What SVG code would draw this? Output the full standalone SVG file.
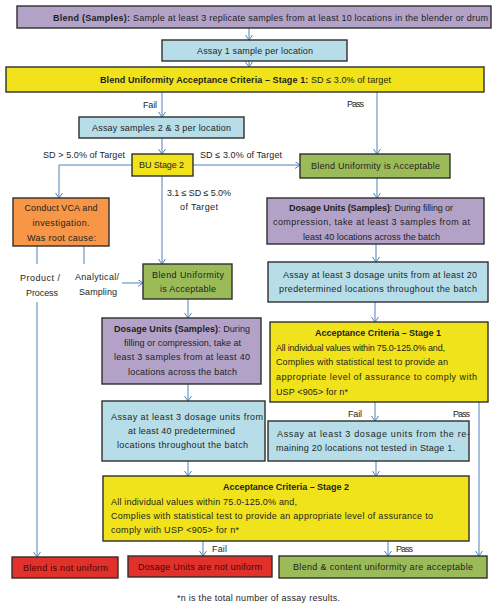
<svg xmlns="http://www.w3.org/2000/svg" width="495" height="608" viewBox="0 0 495 608">
<style>
text{font-family:"Liberation Sans",Arial,sans-serif;font-size:9px;fill:#1e1e1e}
.b{font-weight:bold}
.m{text-anchor:middle}
.box{stroke:#2e2e2e;stroke-width:1.4}
.pu{fill:#b3a2c7}.cy{fill:#b7dee8}.ye{fill:#f0e31b}.gr{fill:#9bbb59}.or{fill:#f79646}.rd{fill:#e2302a}
.rt{fill:#4a0505}
.c{fill:none;stroke:#4f81bd;stroke-width:1}
.a{marker-end:url(#ah)}
</style>
<defs>
<marker id="ah" markerUnits="userSpaceOnUse" markerWidth="8" markerHeight="8" refX="5" refY="3.5" orient="auto">
<path d="M0,0 L5,3.5 L0,7" fill="none" stroke="#4f81bd" stroke-width="1"/>
</marker>
</defs>
<rect width="495" height="608" fill="#ffffff"/>

<g id="connectors">
<path class="c a" d="M249,28 V40"/>
<path class="c a" d="M249,61 V67"/>
<path class="c a" d="M162,92 V117"/>
<path class="c a" d="M377,92 V154"/>
<path class="c a" d="M162,138 V154"/>
<path class="c a" d="M132,165 H59 V198"/>
<path class="c a" d="M193,165 H300"/>
<path class="c a" d="M162,176 V264"/>
<path class="c a" d="M377,178 V198"/>
<path class="c a" d="M376,244 V262"/>
<path class="c a" d="M375,302 V322"/>
<path class="c" d="M37,246 V264"/>
<path class="c a" d="M37,302 V557"/>
<path class="c" d="M84,246 V264"/>
<path class="c a" d="M122,283 H143"/>
<path class="c a" d="M188,299 V318"/>
<path class="c a" d="M188,384 V401"/>
<path class="c a" d="M375,402 V421"/>
<path class="c a" d="M479,402 V556"/>
<path class="c a" d="M188,461 V476"/>
<path class="c a" d="M376,461 V476"/>
<path class="c a" d="M203,541 V556"/>
<path class="c a" d="M388,541 V556"/>
<text x="150" y="108" class="m" textLength="14">Fail</text>
<text x="355.5" y="107" class="m" textLength="17">Pass</text>
<text x="84" y="158" class="m" textLength="82">SD &gt; 5.0% of Target</text>
<text x="241" y="158" class="m" textLength="82">SD ≤ 3.0% of Target</text>
<text x="199" y="196" class="m" textLength="64">3.1 ≤ SD ≤ 5.0%</text>
<text x="199" y="210" class="m" textLength="38">of Target</text>
<text x="40" y="281" class="m" textLength="40">Product /</text>
<text x="42" y="296" class="m" textLength="32">Process</text>
<text x="97" y="280" class="m" textLength="44">Analytical/</text>
<text x="98" y="295" class="m" textLength="38">Sampling</text>
<text x="355" y="417" class="m" textLength="14">Fail</text>
<text x="461.5" y="417" class="m" textLength="17">Pass</text>
<text x="219.5" y="552" class="m" textLength="15">Fail</text>
<text x="404.5" y="552" class="m" textLength="17">Pass</text>
</g>

<g id="blend-samples">
<rect class="box pu" x="17" y="6" width="474" height="22"/>
<text x="53" y="20.5" textLength="435"><tspan class="b">Blend (Samples):</tspan>  Sample at least 3 replicate samples from at least 10 locations in the blender or drum</text>
</g>
<g id="assay-1">
<rect class="box cy" x="162" y="40" width="185" height="21"/>
<text x="197" y="54" textLength="116">Assay 1 sample per location</text>
</g>
<g id="bu-stage1">
<rect class="box ye" x="6" y="67" width="478" height="25"/>
<text x="100" y="83" textLength="291"><tspan class="b">Blend Uniformity Acceptance Criteria – Stage 1:</tspan>  SD ≤ 3.0% of target</text>
</g>
<g id="assay-2-3">
<rect class="box cy" x="79" y="117" width="165" height="21"/>
<text x="92" y="131" textLength="139">Assay samples 2 &amp; 3 per location</text>
</g>
<g id="bu-stage2">
<rect class="box ye" x="132" y="154" width="61" height="22"/>
<text x="139" y="168" textLength="45">BU Stage 2</text>
</g>
<g id="vca">
<rect class="box or" x="13" y="198" width="96" height="48"/>
<text x="61" y="211" class="m" textLength="73">Conduct VCA and</text>
<text x="61" y="226" class="m" textLength="57">investigation.</text>
<text x="61.5" y="241" class="m" textLength="69">Was root cause:</text>
</g>
<g id="bua-right">
<rect class="box gr" x="300" y="154" width="150" height="24"/>
<text x="375.5" y="169" class="m" textLength="129">Blend Uniformity is Acceptable</text>
</g>
<g id="dosage-right">
<rect class="box pu" x="267" y="198" width="217" height="46"/>
<text x="289" y="211" textLength="164"><tspan class="b">Dosage Units (Samples)</tspan>:  During filling or</text>
<text x="273" y="225" textLength="197">compression, take at least 3 samples from at</text>
<text x="303" y="240" textLength="137">least 40 locations across the batch</text>
</g>
<g id="assay-right-1">
<rect class="box cy" x="268" y="262" width="220" height="40"/>
<text x="283" y="278" textLength="194">Assay at least 3 dosage units from at least 20</text>
<text x="279" y="292" textLength="198">predetermined locations throughout the batch</text>
</g>
<g id="acc-stage1">
<rect class="box ye" x="270" y="322" width="218" height="80"/>
<text x="378" y="335.5" class="m b" textLength="126">Acceptance Criteria – Stage 1</text>
<text x="276" y="350.5" textLength="169">All individual values within 75.0-125.0% and,</text>
<text x="276" y="365" textLength="172">Complies with statistical test to provide an</text>
<text x="276" y="380" textLength="201">appropriate level of assurance to comply with</text>
<text x="276" y="394.5" textLength="72">USP &lt;905&gt; for n*</text>
</g>
<g id="assay-right-2">
<rect class="box cy" x="268" y="421" width="201" height="40"/>
<text x="277" y="437" textLength="193">Assay at least 3 dosage units from the re-</text>
<text x="276" y="451" textLength="179">maining 20 locations not tested in Stage 1.</text>
</g>
<g id="bua-left">
<rect class="box gr" x="143" y="264" width="89" height="35"/>
<text x="188" y="278" class="m" textLength="72">Blend Uniformity</text>
<text x="188" y="292" class="m" textLength="56">is Acceptable</text>
</g>
<g id="dosage-left">
<rect class="box pu" x="102" y="318" width="159" height="66"/>
<text x="114" y="332" textLength="136"><tspan class="b">Dosage Units (Samples)</tspan>:  During</text>
<text x="124" y="346" textLength="117">filling or compression, take at</text>
<text x="114" y="360" textLength="136">least 3 samples from at least 40</text>
<text x="128" y="375" textLength="109">locations across the batch</text>
</g>
<g id="assay-left">
<rect class="box cy" x="102" y="401" width="163" height="60"/>
<text x="111" y="420" textLength="152">Assay at least 3 dosage units from</text>
<text x="128" y="434" textLength="107">at least 40 predetermined</text>
<text x="117" y="448" textLength="131">locations throughout the batch</text>
</g>
<g id="acc-stage2">
<rect class="box ye" x="103" y="476" width="366" height="65"/>
<text x="286" y="490" class="m b" textLength="126">Acceptance Criteria – Stage 2</text>
<text x="111" y="505" textLength="186">All individual values within 75.0-125.0% and,</text>
<text x="111" y="519" textLength="322">Complies with statistical test to provide an appropriate level of assurance to</text>
<text x="111" y="533" textLength="128">comply with USP &lt;905&gt; for n*</text>
</g>
<g id="blend-not-uniform">
<rect class="box rd" x="12" y="557" width="106" height="21"/>
<text x="65.5" y="570.5" class="m rt" textLength="85">Blend is not uniform</text>
</g>
<g id="dosage-not-uniform">
<rect class="box rd" x="128" y="556" width="144" height="21"/>
<text x="200" y="569.5" class="m rt" textLength="124">Dosage Units are not uniform</text>
</g>
<g id="acceptable">
<rect class="box gr" x="279" y="556" width="208" height="22"/>
<text x="383" y="570" class="m" textLength="180">Blend &amp; content uniformity are acceptable</text>
</g>
<text x="258.5" y="601" class="m" textLength="163">*n is the total number of assay results.</text>
</svg>
